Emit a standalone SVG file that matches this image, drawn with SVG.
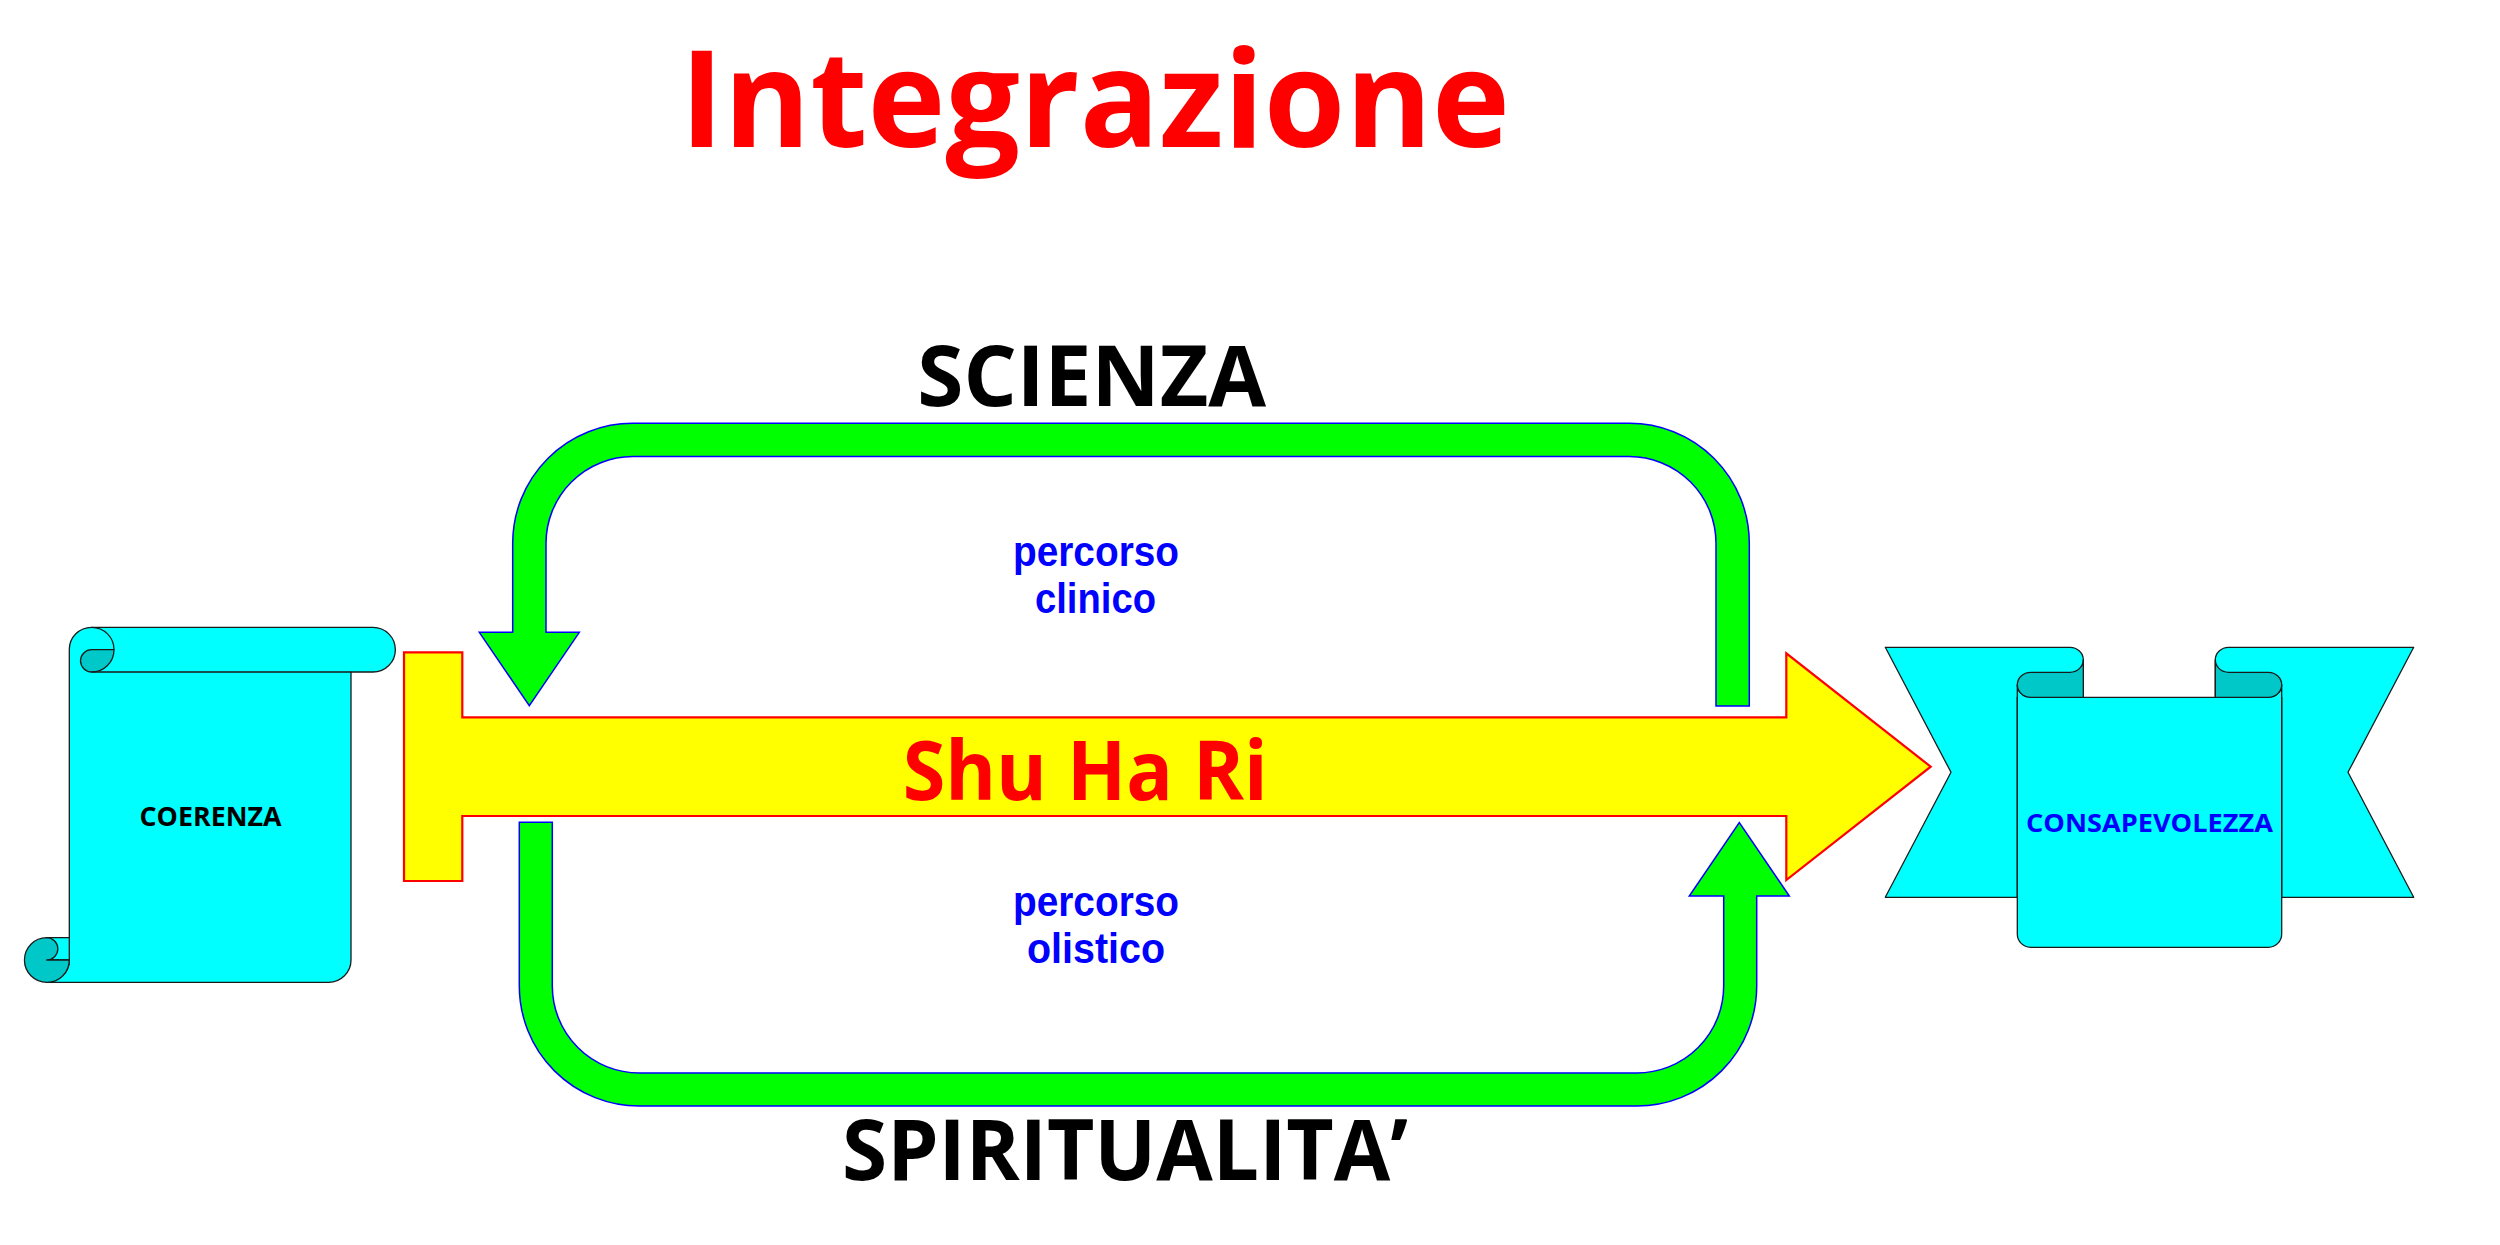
<svg xmlns="http://www.w3.org/2000/svg" width="2500" height="1245" viewBox="0 0 2500 1245">
<style>
  .txt { font-family: "Open Sans", "Noto Sans", "DejaVu Sans", sans-serif; font-weight: bold; text-anchor: middle; }
  .light { fill: #00ffff; stroke: #1a1a1a; stroke-width: 1.3; stroke-linejoin: round; }
  .dark { fill: #00c8c8; stroke: #1a1a1a; stroke-width: 1.3; stroke-linejoin: round; }
  .line { fill: none; stroke: #1a1a1a; stroke-width: 1.3; }
  .green { fill: #00ff00; stroke: #0000ff; stroke-width: 1.5; stroke-linejoin: miter; }
  .yellow { fill: #ffff00; stroke: #ff0000; stroke-width: 2.2; stroke-linejoin: miter; }
  .path-label { font-family: "Liberation Sans", Arial, sans-serif; font-weight: bold; text-anchor: middle; font-size: 42px; fill: #0000ff; }
</style>
<rect width="2500" height="1245" fill="#ffffff"/>

<g id="title">
  <text class="txt" x="1095" y="147.3" font-size="135" fill="#ff0000" textLength="830" lengthAdjust="spacingAndGlyphs">Integrazione</text>
</g>

<g id="label-scienza">
  <text class="txt" x="1091.7" y="405.7" font-size="84" fill="#000000" textLength="349" lengthAdjust="spacingAndGlyphs">SCIENZA</text>
</g>

<g id="label-spiritualita">
  <text class="txt" x="1125" y="1180" font-size="84" fill="#000000" textLength="566" lengthAdjust="spacingAndGlyphs">SPIRITUALITA’</text>
</g>

<g id="coerenza">
  <path class="light" d="M69.3,649.7 A22.3,22.3 0 0 1 91.7,627.3 L373,627.3 A22.3,22.3 0 0 1 373,672 L351,672 L351,960 A22.3,22.3 0 0 1 328.7,982.3 L46.7,982.3 A22.3,22.3 0 0 0 69.3,960 Z"/>
  <path class="light" d="M46.7,937.7 L69.3,937.7 L69.3,960 L46.7,960 Z"/>
  <path class="dark" d="M46.7,937.7 A11.2,11.15 0 0 1 46.7,960 L69.3,960 A22.3,22.3 0 0 1 46.7,982.3 A22.3,22.3 0 0 1 46.7,937.7 Z"/>
  <path class="dark" d="M91.7,649.7 L114,649.7 A22.3,22.3 0 0 1 91.7,672 A11.2,11.15 0 0 1 91.7,649.7 Z"/>
  <path class="line" d="M91.7,627.3 A22.3,22.3 0 0 1 114,649.7 M91.7,672 L351,672"/>
  <text class="txt" x="210.5" y="825.7" font-size="26.5" fill="#000000" textLength="142" lengthAdjust="spacingAndGlyphs">COERENZA</text>
</g>

<g id="shuhari">
  <path class="yellow" d="M404,652.3 L462.3,652.3 L462.3,717.3 L1786.3,717.3 L1786.3,653.3 L1930.7,766.7 L1786.3,880 L1786.3,816 L462.3,816 L462.3,881 L404,881 Z"/>
  <text class="txt" x="1085.2" y="800" font-size="82" fill="#ff0000" textLength="365" lengthAdjust="spacingAndGlyphs">Shu Ha Ri</text>
</g>

<g id="consapevolezza">
  <path class="light" d="M1885.3,647.3 L2070,647.3 A13.3,12.5 0 0 1 2083.3,659.8 L2083.3,697.3 L2017.3,697.3 L2017.3,897.3 L1885.3,897.3 L1951,772.3 Z"/>
  <path class="light" d="M2413.7,647.3 L2228.6,647.3 A13.3,12.5 0 0 0 2215.3,659.8 L2215.3,697.3 L2281.7,697.3 L2281.7,897.3 L2413.7,897.3 L2348,772.3 Z"/>
  <path class="light" d="M2017.3,684.8 L2017.3,934 A13.3,13.3 0 0 0 2030.6,947.3 L2268.4,947.3 A13.3,13.3 0 0 0 2281.7,934 L2281.7,684.8 A13.3,12.5 0 0 1 2268.4,697.3 L2030.6,697.3 A13.3,12.5 0 0 1 2017.3,684.8 Z"/>
  <path class="dark" d="M2030.6,672.3 L2070,672.3 A13.3,12.5 0 0 0 2083.3,659.8 L2083.3,697.3 L2030.6,697.3 A13.3,12.5 0 0 1 2030.6,672.3 Z"/>
  <path class="dark" d="M2268.4,672.3 L2228.6,672.3 A13.3,12.5 0 0 1 2215.3,659.8 L2215.3,697.3 L2268.4,697.3 A13.3,12.5 0 0 0 2268.4,672.3 Z"/>
  <text class="txt" x="2149.5" y="831.7" font-size="25.6" fill="#0000ff" textLength="247" lengthAdjust="spacingAndGlyphs">CONSAPEVOLEZZA</text>
</g>

<g id="connectors">
  <path id="arrow-clinico" class="green" d="M1716,706 L1749.3,706 L1749.3,543.3 A120,120 0 0 0 1629.3,423.3 L632.7,423.3 A120,120 0 0 0 512.7,543.3 L512.7,632.3 L479.3,632.3 L529.3,705.7 L579.3,632.3 L546,632.3 L546,543.3 A86.7,86.7 0 0 1 632.7,456.6 L1629.3,456.6 A86.7,86.7 0 0 1 1716,543.3 Z"/>
  <path id="arrow-olistico" class="green" d="M519.3,822.3 L552.3,822.3 L552.3,986 A87,87 0 0 0 639.3,1073 L1636.7,1073 A87,87 0 0 0 1723.7,986 L1723.7,896 L1689.3,896 L1739.3,822.7 L1789.3,896 L1756.7,896 L1756.7,986 A120,120 0 0 1 1636.7,1106 L639.3,1106 A120,120 0 0 1 519.3,986 Z"/>
</g>

<g id="label-clinico">
  <text class="path-label" x="1096" y="565.7" textLength="166" lengthAdjust="spacingAndGlyphs">percorso</text>
  <text class="path-label" x="1095.5" y="613.3" textLength="121" lengthAdjust="spacingAndGlyphs">clinico</text>
</g>

<g id="label-olistico">
  <text class="path-label" x="1096" y="915.7" textLength="166" lengthAdjust="spacingAndGlyphs">percorso</text>
  <text class="path-label" x="1096" y="963.3" textLength="138" lengthAdjust="spacingAndGlyphs">olistico</text>
</g>
</svg>
